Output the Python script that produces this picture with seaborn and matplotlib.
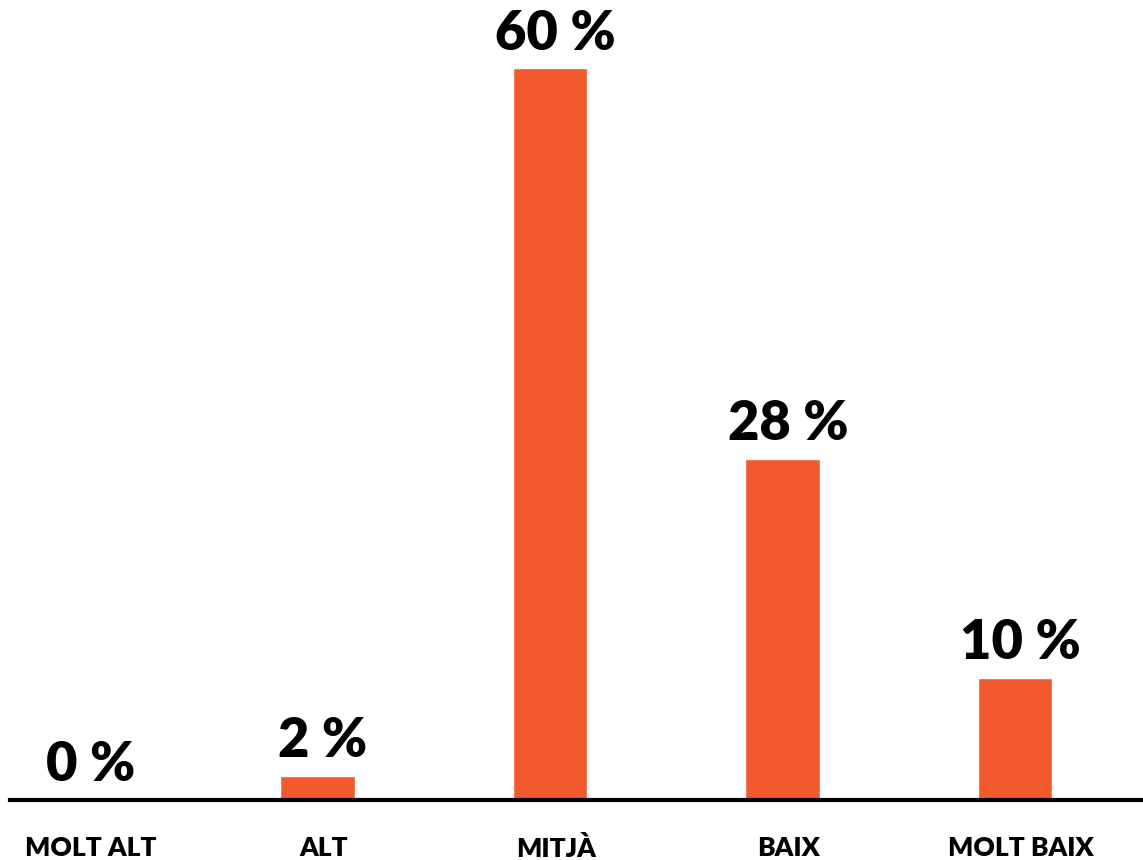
import matplotlib
matplotlib.use("Agg")
import matplotlib.pyplot as plt
import matplotlib.transforms as mtransforms
import seaborn as sns
import pandas as pd

categories = ["MOLT ALT", "ALT", "MITJÀ", "BAIX", "MOLT BAIX"]
values = [0, 2, 60, 28, 10]
value_labels = ["0 %", "2 %", "60 %", "28 %", "10 %"]

sns.set_theme(style="white")
plt.rcParams['font.family'] = ['Lato', 'DejaVu Sans']

df = pd.DataFrame({"cat": categories, "val": values})

fig = plt.figure(figsize=(11.43, 8.6), dpi=100)
ax = fig.add_axes([0.0087, 0.0698, 0.9913, 0.930])
sns.barplot(data=df, x="cat", y="val", color="#F05A2C", width=0.32,
            saturation=1, ax=ax)

ax.set_xlim(-0.322, 4.55)
ax.set_ylim(0, 65.6)

for i, (v, lab) in enumerate(zip(values, value_labels)):
    ax.annotate(lab, (i, v), xytext=(4, 7), textcoords="offset points",
                ha="center", va="bottom", fontsize=39, fontweight="heavy",
                color="black")

for s in ["left", "right", "top"]:
    ax.spines[s].set_visible(False)
ax.spines["bottom"].set_linewidth(3)
ax.spines["bottom"].set_color("black")
ax.set_yticks([])
ax.set_xlabel("")
ax.set_ylabel("")
ax.tick_params(axis="x", length=0, pad=26)
shift = mtransforms.ScaledTranslation(6 / 100, 0, fig.dpi_scale_trans)
for t in ax.get_xticklabels():
    t.set_fontsize(19)
    t.set_fontweight("heavy")
    t.set_color("black")
    t.set_transform(t.get_transform() + shift)

fig.savefig("out.png", dpi=100)
